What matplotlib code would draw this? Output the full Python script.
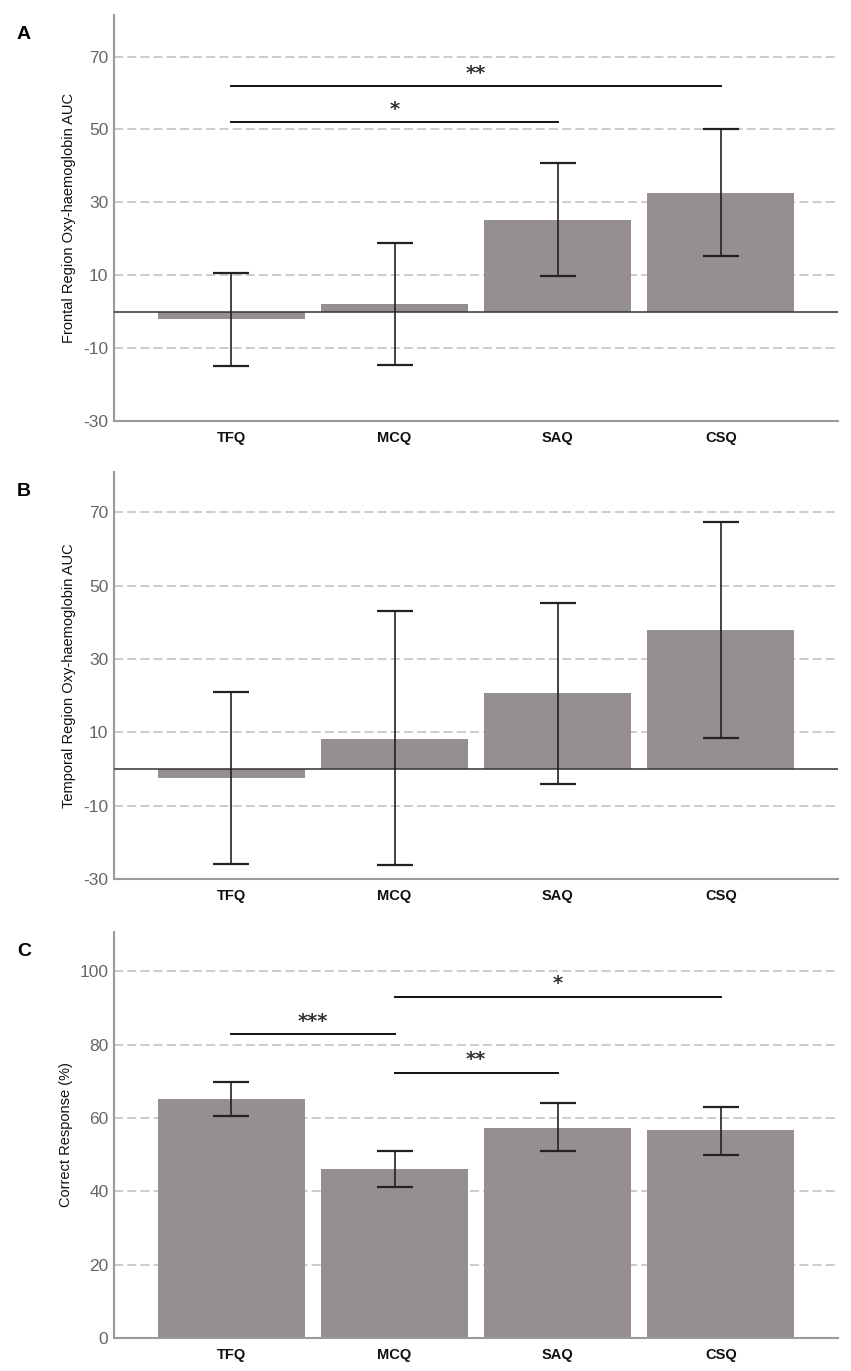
import matplotlib
matplotlib.use('Agg')
import matplotlib.pyplot as plt
import numpy as np

plt.rcParams['axes.unicode_minus'] = False
plt.rcParams['font.family'] = ['Liberation Sans', 'DejaVu Sans']

# data
groups = ['TFQ', 'MCQ', 'SAQ', 'CSQ']

frontal_mean = [-2.0, 2.1, 25.2, 32.6]
frontal_hi = [10.6, 18.9, 40.9, 50.0]
frontal_lo = [-14.9, -14.6, 9.7, 15.4]

temporal_mean = [-2.4, 8.3, 20.6, 37.8]
temporal_hi = [21.1, 43.2, 45.4, 67.4]
temporal_lo = [-26.0, -26.3, -4.0, 8.4]

correct_mean = [65.1, 46.0, 57.4, 56.6]
correct_hi = [69.9, 51.1, 64.1, 63.1]
correct_lo = [60.5, 41.1, 50.9, 50.0]

# significance brackets: (start group, end group, y level, stars)
frontal_sig = [(0, 3, 61.8, '**'), (0, 2, 52.0, '*')]
correct_sig = [(0, 1, 82.8, '***'), (1, 2, 72.3, '**'), (1, 3, 93.0, '*')]

BAR = '#958f8f'
AXC = '#9a9a9a'


def draw_panel(ax, means, hi, lo, ylabel, ticks, ylim, letter, sig=()):
    x = np.arange(len(groups))
    ax.bar(x, means, width=0.9, color=BAR, zorder=2)
    means = np.array(means)
    err = [means - np.array(lo), np.array(hi) - means]
    ax.errorbar(x, means, yerr=err, fmt='none', ecolor='#222222',
                elinewidth=1.2, capsize=13, capthick=1.6, zorder=4)
    for t in ticks[1:]:
        ax.axhline(t, color='#c8c8c8', lw=1.3, ls=(0, (5, 2.3)), zorder=1)
    if ylim[0] < 0:
        ax.axhline(0, color='#333333', lw=1.1, zorder=3)
    for a, b, y, s in sig:
        ax.plot([a, b], [y, y], color='#111111', lw=1.4, zorder=4)
        ax.text((a + b) / 2, y + (ylim[1] - ylim[0]) * 0.032, s,
                ha='center', va='center', fontsize=14, fontweight='bold',
                color='#333333', family='DejaVu Sans')
    ax.set_xlim(-0.72, 3.72)
    ax.set_ylim(*ylim)
    ax.set_yticks(ticks)
    ax.set_xticks(x)
    ax.set_xticklabels(groups, fontweight='bold', fontsize=10.5,
                       color='#111111')
    for lab in ax.get_yticklabels():
        lab.set_fontsize(12.5)
        lab.set_color('#666666')
    ax.tick_params(axis='y', length=0, pad=4)
    ax.tick_params(axis='x', length=0, pad=7.5)
    for s in ['top', 'right']:
        ax.spines[s].set_visible(False)
    for s in ['left', 'bottom']:
        ax.spines[s].set_color(AXC)
        ax.spines[s].set_linewidth(1.5)
    ax.set_ylabel(ylabel, fontsize=10.5, color='#111111', labelpad=5)
    ax.text(-0.134, 0.952, letter, transform=ax.transAxes, fontsize=14,
            fontweight='bold', ha='left', va='center')


fig = plt.figure(figsize=(8.51, 13.71), dpi=100)
axA = fig.add_axes([0.134, 0.6929, 0.851, 0.2964])
axB = fig.add_axes([0.134, 0.3589, 0.851, 0.2971])
axC = fig.add_axes([0.134, 0.0241, 0.851, 0.2963])

draw_panel(axA, frontal_mean, frontal_hi, frontal_lo,
           'Frontal Region Oxy-haemoglobin AUC', [-30, -10, 10, 30, 50, 70],
           (-30, 81.5), 'A', frontal_sig)
draw_panel(axB, temporal_mean, temporal_hi, temporal_lo,
           'Temporal Region Oxy-haemoglobin AUC', [-30, -10, 10, 30, 50, 70],
           (-30, 81.1), 'B')
draw_panel(axC, correct_mean, correct_hi, correct_lo,
           'Correct Response (%)', [0, 20, 40, 60, 80, 100],
           (0, 110.8), 'C', correct_sig)

fig.savefig('out.png', dpi=100)
